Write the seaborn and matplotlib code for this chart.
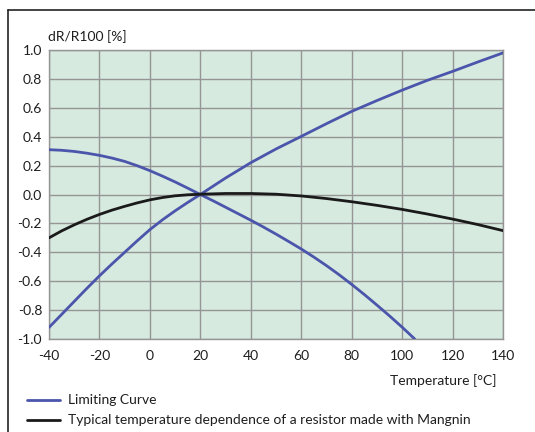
import matplotlib

matplotlib.use("Agg")
import matplotlib.pyplot as plt
import pandas as pd
import seaborn as sns
from matplotlib.lines import Line2D

# values
temp_upper = [-40, -35, -30, -25, -20, -15, -10, -5, 0, 5, 10, 15, 20, 25, 30, 35, 40, 45, 50,
              55, 60, 65, 70, 75, 80, 85, 90, 95, 100, 105]
limit_upper = [0.31, 0.306, 0.298, 0.286, 0.271, 0.252, 0.229, 0.199, 0.165, 0.127, 0.087, 0.044, 0.0,
               -0.043, -0.088, -0.133, -0.178, -0.225, -0.274, -0.325, -0.377, -0.433, -0.492,
               -0.555, -0.622, -0.692, -0.765, -0.84, -0.918, -1.0]

temp_lower = [-40, -35, -30, -25, -20, -15, -10, -5, 0, 5, 10, 15, 20, 30, 40, 50, 60, 70, 80,
              90, 100, 110, 120, 130, 140]
limit_lower = [-0.92, -0.83, -0.74, -0.65, -0.563, -0.48, -0.40, -0.32, -0.243, -0.175, -0.113,
               -0.055, 0.0, 0.114, 0.22, 0.315, 0.402, 0.49, 0.575, 0.65, 0.722, 0.79, 0.852,
               0.917, 0.98]

temp_mangnin = [-40, -35, -30, -25, -20, -15, -10, -5, 0, 5, 10, 15, 20, 30, 40, 50, 60, 70, 80,
                90, 100, 110, 120, 130, 140]
dr_mangnin = [-0.30, -0.252, -0.21, -0.172, -0.138, -0.108, -0.082, -0.058, -0.037, -0.021,
              -0.009, -0.002, 0.002, 0.007, 0.007, 0.002, -0.01, -0.028, -0.05, -0.075, -0.103,
              -0.135, -0.17, -0.208, -0.25]

x_ticks = [-40, -20, 0, 20, 40, 60, 80, 100, 120, 140]
y_ticks = [-1.0, -0.8, -0.6, -0.4, -0.2, 0.0, 0.2, 0.4, 0.6, 0.8, 1.0]

BLUE = "#4a55ab"
BLACK = "#1a1a1a"
GRID = "#959595"
TEXT = "#1e1e1e"
FS = 10

sns.set_style("white")
plt.rcParams["font.family"] = ["Lato", "DejaVu Sans"]

fig = plt.figure(figsize=(5.35, 4.32), dpi=100)
ax = fig.add_axes([49 / 535, 1 - 339 / 432, (503 - 49) / 535, (339 - 50) / 432])
ax.set_facecolor("#d6eadf")

df_up = pd.DataFrame({"t": temp_upper, "v": limit_upper})
df_lo = pd.DataFrame({"t": temp_lower, "v": limit_lower})
df_mg = pd.DataFrame({"t": temp_mangnin, "v": dr_mangnin})

sns.lineplot(data=df_up, x="t", y="v", ax=ax, color=BLUE, linewidth=2.0, zorder=3)
sns.lineplot(data=df_lo, x="t", y="v", ax=ax, color=BLUE, linewidth=2.0, zorder=3)
sns.lineplot(data=df_mg, x="t", y="v", ax=ax, color=BLACK, linewidth=2.0, zorder=3)

ax.set_xlim(-40, 140)
ax.set_ylim(-1.0, 1.0)
ax.set_xticks(x_ticks)
ax.set_yticks(y_ticks)
ax.set_xticklabels([str(t) for t in x_ticks])
ax.set_yticklabels([f"{v:.1f}" for v in y_ticks])
ax.grid(True, color=GRID, linewidth=1.0)
ax.set_axisbelow(True)
ax.tick_params(axis="both", direction="out", length=4, width=1, color=GRID,
               labelsize=FS, labelcolor=TEXT)
ax.tick_params(axis="x", pad=4)
ax.tick_params(axis="y", pad=1)
for sp in ax.spines.values():
    sp.set_color(GRID)
    sp.set_linewidth(1.0)
ax.set_xlabel("")
ax.set_ylabel("")

fig.text(48 / 535, 1 - 37 / 432, "dR/R100 [%]", fontsize=FS, color=TEXT,
         ha="left", va="center")
fig.text(497 / 535, 1 - 381 / 432, "Temperature [°C]", fontsize=FS, color=TEXT,
         ha="right", va="center")

# legend drawn below the axes
fig.add_artist(Line2D([27 / 535, 60 / 535], [1 - 400 / 432] * 2, color=BLUE, linewidth=2.0))
fig.add_artist(Line2D([27 / 535, 60 / 535], [1 - 420 / 432] * 2, color=BLACK, linewidth=2.0))
fig.text(68 / 535, 1 - 400 / 432, "Limiting Curve", fontsize=FS, color=TEXT,
         ha="left", va="center")
fig.text(68 / 535, 1 - 420 / 432, "Typical temperature dependence of a resistor made with Mangnin",
         fontsize=FS, color=TEXT, ha="left", va="center")

# outer frame (left and top edges)
fig.add_artist(Line2D([7.5 / 535, 7.5 / 535], [0, 1 - 9.5 / 432], color="#222222", linewidth=1.2))
fig.add_artist(Line2D([7.5 / 535, 1], [1 - 9.5 / 432] * 2, color="#222222", linewidth=1.2))

fig.savefig("out.png", dpi=100)
